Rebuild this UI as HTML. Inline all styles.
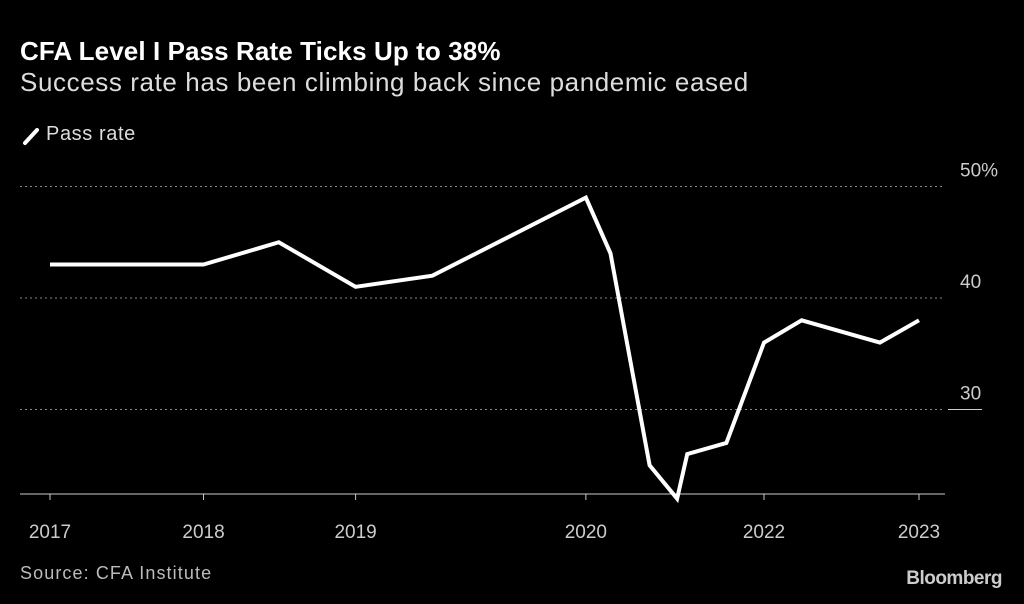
<!DOCTYPE html>
<html><head><meta charset="utf-8"><style>
body{margin:0;background:#000;width:1024px;height:604px;overflow:hidden;font-family:"Liberation Sans",sans-serif;color:#fff}
.t{position:absolute;left:20px;top:36px;font-size:26px;font-weight:bold;letter-spacing:0.1px}
.s{position:absolute;left:20px;top:67px;font-size:26px;color:#ddd;letter-spacing:0.6px}
.lg{position:absolute;left:46px;top:123px;font-size:20px;color:#ddd;letter-spacing:0.6px}
.src{position:absolute;left:20px;top:563px;font-size:18px;color:#bbb;letter-spacing:1.1px}
.bb{position:absolute;right:22px;top:568px;font-size:19px;font-weight:bold;letter-spacing:-0.5px;color:#ccc}
</style></head><body>
<div class="t">CFA Level I Pass Rate Ticks Up to 38%</div>
<div class="s">Success rate has been climbing back since pandemic eased</div>
<svg style="position:absolute;left:22px;top:126px" width="20" height="20"><line x1="3" y1="17" x2="15" y2="4" stroke="#fff" stroke-width="4" stroke-linecap="round"/></svg>
<div class="lg">Pass rate</div>
<svg id="c" width="1024" height="604" style="position:absolute;left:0;top:0"></svg>
<div class="src">Source: CFA Institute</div>
<div class="bb">Bloomberg</div>
<script>
const dates=[2017.0,2018.06,2018.58,2019.11,2019.64,2020.70,2020.87,2021.14,2021.33,2021.40,2021.67,2021.93,2022.19,2022.73,2023.0];
const rates=[43,43,45,41,42,49,44,25,22,26,27,36,38,36,38];
const tickDates=[2017.0,2018.06,2019.11,2020.70,2021.93,2023.0];
const tickLabels=["2017","2018","2019","2020","2022","2023"];
const yTicks=[50,40,30];
const yTickLabels=["50%","40","30"];
const NS="http://www.w3.org/2000/svg",svg=document.getElementById('c');
const X=t=>50+(t-2017)*144.83, Y=v=>298-(v-40)*11.15;
function mk(tag,a){const e=document.createElementNS(NS,tag);for(const k in a)e.setAttribute(k,a[k]);svg.appendChild(e);return e;}
yTicks.forEach((v,i)=>{
 const l=mk('line',{x1:20,x2:945,y1:Y(v),y2:Y(v),stroke:'#888','stroke-dasharray':'2,3','stroke-width':1});
 
 
 const t=mk('text',{x:960,y:Y(v)-10,fill:'#ccc','font-size':19,'font-family':'Liberation Sans'});
 t.textContent=yTickLabels[i];
 
 
});
const tl=mk('line',{x1:948,x2:982,y1:Y(30),y2:Y(30),stroke:'#ccc','stroke-width':1});


const ax=mk('line',{x1:20,x2:945,y1:494,y2:494,stroke:'#ccc','stroke-width':1});


tickDates.forEach((d,i)=>{
 const k=mk('line',{x1:X(d),x2:X(d),y1:494,y2:500,stroke:'#ccc'});
 
 
 const t=mk('text',{x:X(d),y:538,fill:'#ccc','font-size':19,'text-anchor':'middle','font-family':'Liberation Sans'});
 t.textContent=tickLabels[i];
 
 
});
const p=mk('polyline',{points:dates.map((d,i)=>X(d)+','+Y(rates[i])).join(' '),fill:'none',stroke:'#fff','stroke-width':4,'stroke-linejoin':'miter'});


</script>
</body></html>
